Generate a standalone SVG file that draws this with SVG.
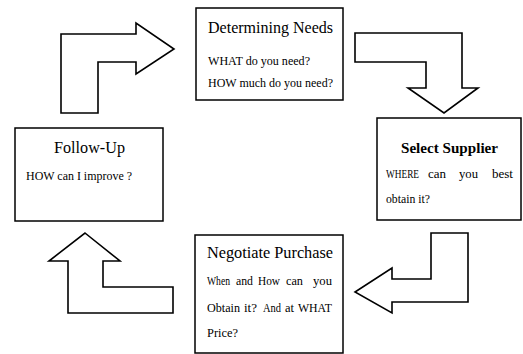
<svg xmlns="http://www.w3.org/2000/svg" width="523" height="354" viewBox="0 0 523 354">
<style>
.box{fill:#fff;stroke:#000;stroke-width:1.5}
.arr{fill:#fff;stroke:#000;stroke-width:1.6;stroke-linejoin:miter}
text{font-family:"Liberation Serif","Times New Roman",serif;fill:#000}
.t{font-size:16px}
.tb{font-size:15px;font-weight:bold}
.s{font-size:12px}
</style>
<rect width="523" height="354" fill="#fff"/>
<g id="connectors">
<path class="arr" d="M61,34 L136,34 L136,23 L174,49 L136,74 L136,62 L98,62 L98,113 L61,113 Z"/>
<path class="arr" d="M355,33 L462,33 L462,88 L478,88 L444,113 L408,88 L426,88 L426,62 L355,62 Z"/>
<path class="arr" d="M431,233 L468,233 L468,302 L392,302 L392,313 L355,292 L392,268 L392,279 L431,279 Z"/>
<path class="arr" d="M85,233 L120,261 L103,261 L103,287 L173,287 L173,313 L68,313 L68,261 L49,261 Z"/>
</g>
<g id="determining-needs">
<rect class="box" x="196" y="8" width="147" height="92"/>
<text class="t" x="208" y="33" textLength="125" lengthAdjust="spacingAndGlyphs">Determining Needs</text>
<text class="s" x="208" y="65" textLength="102" lengthAdjust="spacingAndGlyphs">WHAT do you need?</text>
<text class="s" x="208" y="87" textLength="125" lengthAdjust="spacingAndGlyphs">HOW much do you need?</text>
</g>
<g id="select-supplier">
<rect class="box" x="377" y="118" width="144" height="102"/>
<text class="tb" x="401" y="153" textLength="97" lengthAdjust="spacingAndGlyphs">Select Supplier</text>
<text class="s" x="386" y="178" textLength="33" lengthAdjust="spacingAndGlyphs">WHERE</text>
<text class="s" x="428" y="178" textLength="18" lengthAdjust="spacingAndGlyphs">can</text>
<text class="s" x="459" y="178" textLength="19" lengthAdjust="spacingAndGlyphs">you</text>
<text class="s" x="492" y="178" textLength="21" lengthAdjust="spacingAndGlyphs">best</text>
<text class="s" x="386" y="203" textLength="44" lengthAdjust="spacingAndGlyphs">obtain it?</text>
</g>
<g id="negotiate-purchase">
<rect class="box" x="195" y="235" width="148" height="118"/>
<text class="t" x="207" y="258" textLength="126" lengthAdjust="spacingAndGlyphs">Negotiate Purchase</text>
<text class="s" x="207" y="285" textLength="23" lengthAdjust="spacingAndGlyphs">When</text>
<text class="s" x="236" y="285" textLength="17" lengthAdjust="spacingAndGlyphs">and</text>
<text class="s" x="258" y="285" textLength="22" lengthAdjust="spacingAndGlyphs">How</text>
<text class="s" x="286" y="285" textLength="17" lengthAdjust="spacingAndGlyphs">can</text>
<text class="s" x="313" y="285" textLength="19" lengthAdjust="spacingAndGlyphs">you</text>
<text class="s" x="207" y="312" textLength="33" lengthAdjust="spacingAndGlyphs">Obtain</text>
<text class="s" x="244" y="312" textLength="13" lengthAdjust="spacingAndGlyphs">it?</text>
<text class="s" x="263" y="312" textLength="18" lengthAdjust="spacingAndGlyphs">And</text>
<text class="s" x="285" y="312" textLength="9" lengthAdjust="spacingAndGlyphs">at</text>
<text class="s" x="298" y="312" textLength="34" lengthAdjust="spacingAndGlyphs">WHAT</text>
<text class="s" x="207" y="337" textLength="31" lengthAdjust="spacingAndGlyphs">Price?</text>
</g>
<g id="follow-up">
<rect class="box" x="15" y="128" width="148" height="93"/>
<text class="t" x="54" y="153" textLength="71" lengthAdjust="spacingAndGlyphs">Follow-Up</text>
<text class="s" x="26" y="180" textLength="106" lengthAdjust="spacingAndGlyphs">HOW can I improve ?</text>
</g>
</svg>
